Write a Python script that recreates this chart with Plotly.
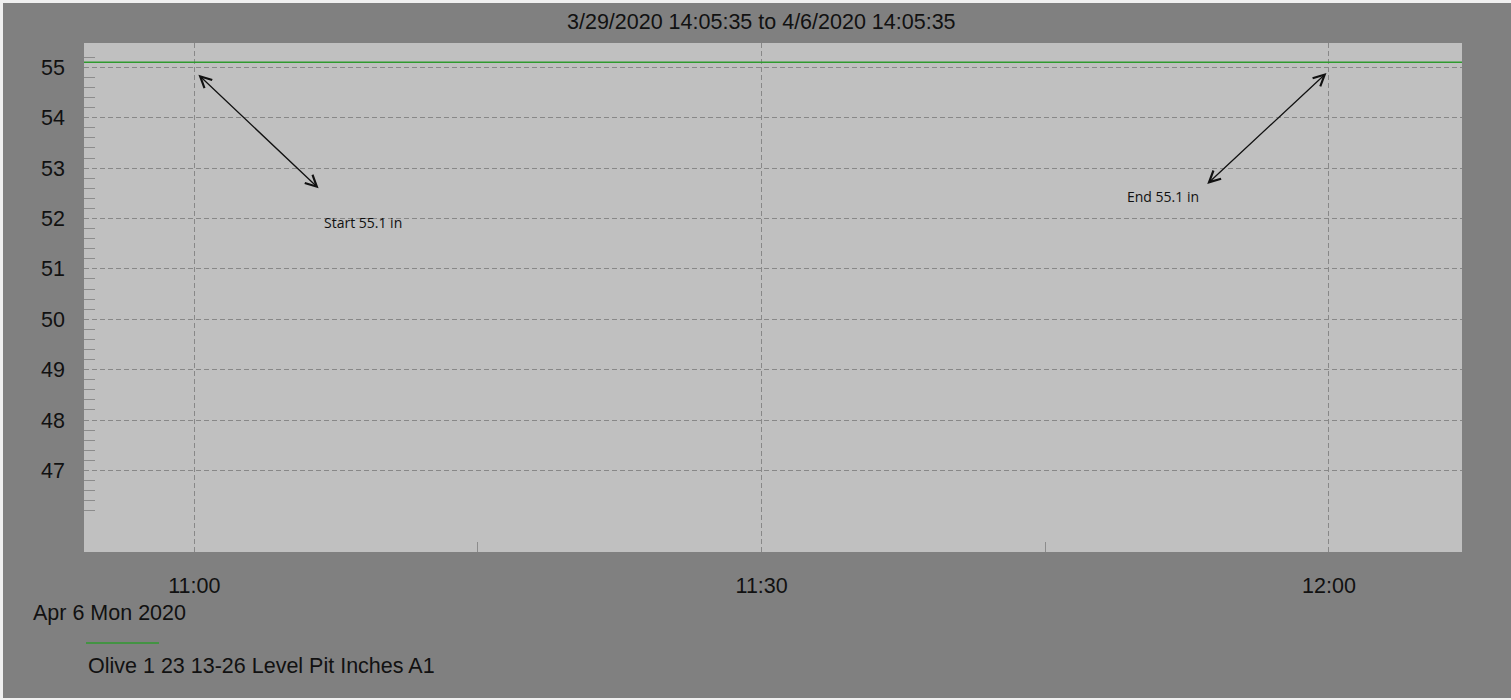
import plotly.graph_objects as go

# ---- data ----
times = ["2020-04-06 10:54:00", "2020-04-06 11:00:00", "2020-04-06 11:15:00",
         "2020-04-06 11:30:00", "2020-04-06 11:45:00", "2020-04-06 12:00:00",
         "2020-04-06 12:07:30"]
level = [55.1, 55.1, 55.1, 55.1, 55.1, 55.1, 55.1]
series_name = "Olive 1 23 13-26 Level Pit Inches A1"
title_text = "3/29/2020 14:05:35 to 4/6/2020 14:05:35"
date_label = "Apr 6 Mon 2020"

x_tickvals = ["2020-04-06 11:00:00", "2020-04-06 11:30:00", "2020-04-06 12:00:00"]
x_ticktext = ["11:00", "11:30", "12:00"]
x_minor = ["2020-04-06 11:15:00", "2020-04-06 11:45:00"]
y_tickvals = [47, 48, 49, 50, 51, 52, 53, 54, 55]
y_minor = [46.2, 46.4, 46.6, 46.8, 47.2, 47.4, 47.6, 47.8, 48.2, 48.4, 48.6, 48.8,
           49.2, 49.4, 49.6, 49.8, 50.2, 50.4, 50.6, 50.8, 51.2, 51.4, 51.6, 51.8,
           52.2, 52.4, 52.6, 52.8, 53.2, 53.4, 53.6, 53.8, 54.2, 54.4, 54.6, 54.8, 55.2]

# annotations (arrow heads and labels)
start_label = "Start 55.1 in"
start_arrow = (["2020-04-06 11:00:13", 54.855], ["2020-04-06 11:06:39", 52.572])
start_text_pos = ["2020-04-06 11:08:55", 51.917]
end_label = "End 55.1 in"
end_arrow = (["2020-04-06 11:59:52", 54.889], ["2020-04-06 11:53:29", 52.658])
end_text_pos = ["2020-04-06 11:51:12", 52.44]

# ---- layout geometry ----
W, H = 1511, 700
L, R, T, B = 84, 49, 43, 148
PW, PH = W - L - R, H - T - B


def xf(px):
    return (px - L) / PW


def yf(py):
    return (H - B - py) / PH


FONT = "Liberation Sans, Arial, sans-serif"
GREEN = "#2f9a2f"

fig = go.Figure()
fig.add_trace(go.Scatter(x=times, y=level, mode="lines",
                         line=dict(color=GREEN, width=1.5),
                         name=series_name, showlegend=False))

annotations = []
for (head, tail) in [start_arrow, end_arrow]:
    annotations.append(dict(x=head[0], y=head[1], ax=tail[0], ay=tail[1],
                            xref="x", yref="y", axref="x", ayref="y",
                            text="", showarrow=True, arrowhead=5, startarrowhead=5,
                            arrowside="end+start", arrowwidth=1.3, arrowsize=1.7,
                            startarrowsize=1.7, arrowcolor="#111111"))
annotations.append(dict(x=start_text_pos[0], y=start_text_pos[1], xref="x", yref="y",
                        text=start_label, showarrow=False,
                        font=dict(family="Open Sans", size=14, color="#111111")))
annotations.append(dict(x=end_text_pos[0], y=end_text_pos[1], xref="x", yref="y",
                        text=end_label, showarrow=False,
                        font=dict(family="Open Sans", size=14, color="#111111")))
annotations.append(dict(x=xf(761.5), y=yf(22), xref="paper", yref="paper",
                        xanchor="center", yanchor="middle", text=title_text,
                        showarrow=False, font=dict(family=FONT, size=21.5, color="#111111")))
annotations.append(dict(x=xf(31), y=yf(613), xref="paper", yref="paper",
                        xanchor="left", yanchor="middle", text=date_label,
                        showarrow=False, font=dict(family=FONT, size=21.5, color="#111111")))
annotations.append(dict(x=xf(86), y=yf(666), xref="paper", yref="paper",
                        xanchor="left", yanchor="middle", text=series_name,
                        showarrow=False, font=dict(family=FONT, size=21.5, color="#111111")))

shapes = [
    # legend line sample
    dict(type="line", xref="paper", yref="paper", x0=xf(86), x1=xf(159),
         y0=yf(643), y1=yf(643), line=dict(color=GREEN, width=1.5)),
    # light window border strips
    dict(type="rect", xref="paper", yref="paper", x0=xf(0), x1=xf(W), y0=yf(3), y1=yf(0),
         fillcolor="#f0f0f0", line=dict(width=0), layer="above"),
    dict(type="rect", xref="paper", yref="paper", x0=xf(0), x1=xf(3), y0=yf(H), y1=yf(0),
         fillcolor="#f0f0f0", line=dict(width=0), layer="above"),
    dict(type="rect", xref="paper", yref="paper", x0=xf(0), x1=xf(W), y0=yf(H), y1=yf(698),
         fillcolor="#f0f0f0", line=dict(width=0), layer="above"),
]

fig.update_layout(
    width=W, height=H,
    margin=dict(l=L, r=R, t=T, b=B, pad=0),
    paper_bgcolor="#808080", plot_bgcolor="#c0c0c0",
    font=dict(family=FONT, size=21.5, color="#111111"),
    annotations=annotations, shapes=shapes, showlegend=False,
)
fig.update_xaxes(
    type="date", range=["2020-04-06 10:54:10", "2020-04-06 12:07:02"],
    tickmode="array", tickvals=x_tickvals, ticktext=x_ticktext,
    ticks="", showline=False, zeroline=False,
    showgrid=True, gridcolor="#888888", griddash="5px,3px", gridwidth=1,
    ticklabelstandoff=18,
    minor=dict(tickmode="array", tickvals=x_minor, ticks="inside", ticklen=10,
               tickcolor="#8c8c8c", tickwidth=1, showgrid=False),
    fixedrange=True,
)
fig.update_yaxes(
    range=[45.38, 55.484],
    tickmode="array", tickvals=y_tickvals, ticktext=[str(v) for v in y_tickvals],
    ticks="", showline=False, zeroline=False,
    showgrid=True, gridcolor="#888888", griddash="5px,3px", gridwidth=1,
    ticklabelstandoff=18,
    minor=dict(tickmode="array", tickvals=y_minor, ticks="inside", ticklen=11,
               tickcolor="#8c8c8c", tickwidth=1, showgrid=False),
    fixedrange=True,
)

fig.write_html("out.html", config={"displayModeBar": False},
               post_script="document.body.style.margin='0px';"
                           "document.body.style.background='#808080';")
